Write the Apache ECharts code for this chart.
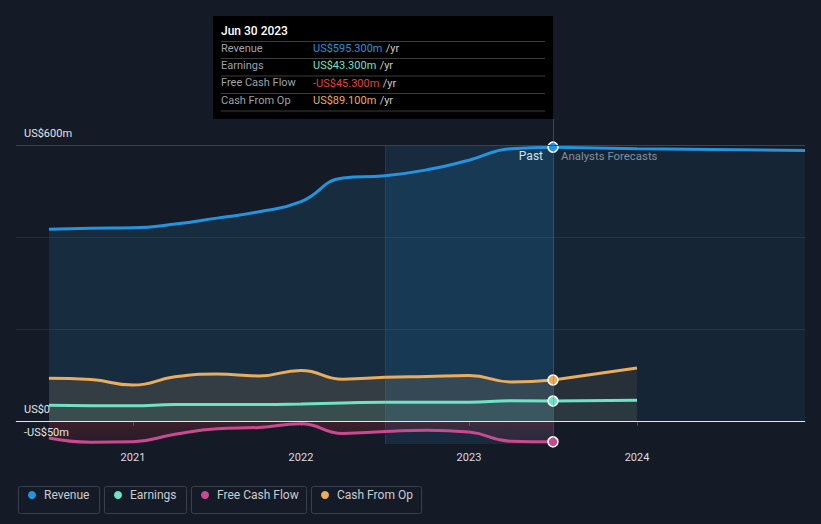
<!DOCTYPE html>
<html>
<head>
<meta charset="utf-8">
<style>
  html, body { margin: 0; padding: 0; background: #151b26; }
  #chart { width: 821px; height: 524px; }
</style>
<script src="https://cdn.jsdelivr.net/npm/echarts@6/dist/echarts.min.js"></script>
</head>
<body>
<div id="chart"></div>
<script>
// ---- data (decimal years, US$ millions) ----
const pastPeriods = [2020.5, 2020.75, 2021, 2021.25, 2021.5, 2021.75, 2022, 2022.25, 2022.5, 2022.75, 2023, 2023.25, 2023.5];
const revenuePast  = [417, 419, 420, 428, 441, 455, 477, 528, 533, 546, 567, 592, 595.3];
const earningsPast = [34, 33, 33, 36, 36, 36, 37, 39, 41, 41, 41, 44, 43.3];
const fcfPast      = [-37, -46, -45, -29, -17, -14, -6, -27, -23, -20, -24, -44, -45.3];
const cfoPast      = [93, 90, 78, 96, 102, 98, 110, 91, 95, 97, 99, 85, 89.1];

const revenueForecastPeriods = [2023.5, 2024, 2025];
const revenueForecast = [595.3, 592, 588];
const shortForecastPeriods = [2023.5, 2024];
const earningsForecast = [43.3, 45];
const cfoForecast = [89.1, 115];

const xTickYears = [2021, 2022, 2023, 2024];
const yLabelValues = [-50, 0, 600];
const gridValues = [200, 400];
const topGridValue = 600;
const bottomValue = -50;
const lastYearStart = 2022.5;
const nowPeriod = 2023.5;

const tooltipDate = 'Jun 30 2023';
const tooltipRows = [
  { name: 'Revenue', value: 'US$595.300m', color: '#2394df' },
  { name: 'Earnings', value: 'US$43.300m', color: '#6fe3c6' },
  { name: 'Free Cash Flow', value: '-US$45.300m', color: '#ec3b3b' },
  { name: 'Cash From Op', value: 'US$89.100m', color: '#e9ad5b' }
];

const C = { rev: '#2394df', earn: '#6fe3c6', fcf: '#c94b8f', cfo: '#e9ad5b' };

function pairs(xs, ys) { return ys.map((v, i) => [xs[i], v]); }
function withDot(xs, ys, color) {
  const d = pairs(xs, ys);
  const last = d.length - 1;
  d[last] = { value: d[last], symbol: 'circle', symbolSize: 10,
    itemStyle: { color: color, borderColor: '#ffffff', borderWidth: 1.5 } };
  return d;
}

const chart = echarts.init(document.getElementById('chart'), null, { renderer: 'svg' });
const font = 'Roboto, "Noto Sans", sans-serif';

function lineSeries(name, data, color, area, z, width) {
  return {
    name: name, type: 'line', data: data, z: z,
    smooth: 0.5,
    symbol: 'none', showSymbol: true, silent: true,
    itemStyle: { color: color },
    lineStyle: { color: color, width: width || 3 },
    areaStyle: area,
    emphasis: { disabled: true }
  };
}

const solid = (color) => ({ color: color, width: 1, type: 'solid' });

const series = [
  {
    name: 'guides', type: 'line', data: [], z: 1, silent: true,
    markArea: {
      silent: true,
      itemStyle: { color: 'rgba(35,148,223,0.13)' },
      data: [[{ xAxis: lastYearStart, yAxis: bottomValue }, { xAxis: nowPeriod, yAxis: topGridValue }]]
    },
    markLine: {
      silent: true, symbol: 'none', label: { show: false },
      data: gridValues.map(v => ({ yAxis: v, lineStyle: solid('rgba(255,255,255,0.07)') }))
        .concat([{ yAxis: topGridValue, lineStyle: solid('#3b414b') }])
        .concat([{ xAxis: nowPeriod, lineStyle: solid('rgba(35,148,223,0.45)') }])
        .concat([[{ coord: [lastYearStart, bottomValue], lineStyle: solid('rgba(35,148,223,0.18)') },
                  { coord: [lastYearStart, topGridValue] }]])
    }
  },
  lineSeries('Revenue', withDot(pastPeriods, revenuePast, C.rev), C.rev, { color: 'rgba(35,148,223,0.2)' }, 2),
  lineSeries('Revenue', pairs(revenueForecastPeriods, revenueForecast), C.rev, { color: 'rgba(35,148,223,0.13)' }, 2),
  lineSeries('Cash From Op', withDot(pastPeriods, cfoPast, C.cfo), C.cfo, { color: 'rgba(233,173,91,0.2)' }, 3),
  lineSeries('Cash From Op', pairs(shortForecastPeriods, cfoForecast), C.cfo, { color: 'rgba(233,173,91,0.12)' }, 3),
  lineSeries('Earnings', withDot(pastPeriods, earningsPast, C.earn), C.earn, { color: 'rgba(111,227,198,0.14)' }, 4),
  lineSeries('Earnings', pairs(shortForecastPeriods, earningsForecast), C.earn, { color: 'rgba(111,227,198,0.08)' }, 4),
  lineSeries('Free Cash Flow', withDot(pastPeriods, fcfPast, C.fcf), C.fcf, {
    color: new echarts.graphic.LinearGradient(0, 0, 0, 1, [
      { offset: 0, color: 'rgba(210,45,65,0.32)' },
      { offset: 1, color: 'rgba(210,45,65,0.12)' }
    ])
  }, 4),
  {
    name: 'zero', type: 'line', data: [], z: 6, silent: true,
    markLine: {
      silent: true, symbol: 'none', label: { show: false },
      data: [{ yAxis: 0, lineStyle: { color: '#e6e6e6', width: 1.2, type: 'solid' } }]
    }
  }
];

function legendItem(name, left) {
  return {
    data: [name], left: left, top: 489, padding: 0, icon: 'circle', itemWidth: 8, itemHeight: 8,
    selectedMode: false,
    textStyle: { color: '#c9ccd1', fontSize: 12, fontFamily: font, padding: [0, 0, 0, 3] }
  };
}

const graphic = [
  { type: 'rect', left: 213, top: 16, shape: { width: 340, height: 103 }, style: { fill: '#000000' }, silent: true },
  { type: 'text', left: 221, top: 25, style: { text: tooltipDate, fill: '#ffffff', font: '500 12px ' + font } }
];
[41.5, 58.5, 76, 93.5, 111].forEach(y => {
  graphic.push({ type: 'line', shape: { x1: 221, y1: y, x2: 545, y2: y }, style: { stroke: '#3c3c3c', lineWidth: 1 }, silent: true });
});
tooltipRows.forEach((r, i) => {
  const cy = [49.5, 66.5, 84, 101.5][i];
  graphic.push({ type: 'text', left: 221, top: cy - 7, style: { text: r.name, fill: '#9da2a9', font: '11px ' + font } });
  graphic.push({ type: 'text', left: 313, top: cy - 7, style: {
    text: '{v|' + r.value + '} {u|/yr}',
    rich: { v: { fill: r.color, font: '11px ' + font }, u: { fill: '#c8c8c8', font: '11px ' + font } }
  } });
});
graphic.push({ type: 'text', right: 821 - 543, top: 150, style: { text: 'Past', fill: '#ffffff', font: '12px ' + font } });
graphic.push({ type: 'text', left: 561, top: 150, style: { text: 'Analysts Forecasts', fill: '#8b9099', font: '11.4px ' + font } });
[[16, 81], [102, 82], [189, 115], [309, 110]].forEach(b => {
  graphic.push({ type: 'rect', left: b[0], top: 484, shape: { width: b[1], height: 27, r: 2 },
    style: { fill: 'none', stroke: '#3a404b', lineWidth: 1 }, silent: true, z: -1 });
});

chart.setOption({
  backgroundColor: '#151b26',
  animation: false,
  grid: { left: 16, right: 16, top: 119, bottom: 80, containLabel: false },
  xAxis: {
    type: 'value', min: 2020.304, max: 2025,
    axisLine: { show: true, lineStyle: { color: '#40464f', width: 1 } },
    axisTick: { show: true, customValues: xTickYears, length: 5, lineStyle: { color: '#4a505a' } },
    axisLabel: { customValues: xTickYears, formatter: v => String(v), color: '#d9dce0', fontSize: 11, fontFamily: font, margin: 8 },
    splitLine: { show: false }
  },
  yAxis: {
    type: 'value', min: bottomValue, max: 656.5, z: 10,
    axisLine: { show: false }, axisTick: { show: false }, splitLine: { show: false },
    axisLabel: {
      customValues: yLabelValues, inside: true, margin: 8, align: 'left', verticalAlign: 'bottom',
      padding: [0, 0, 6, 0], color: '#e2e4e7', fontSize: 11, fontFamily: font,
      formatter: v => v === 0 ? 'US$0' : (v < 0 ? '-US$' + (-v) + 'm' : 'US$' + v + 'm')
    }
  },
  legend: [
    legendItem('Revenue', 28),
    legendItem('Earnings', 114),
    legendItem('Free Cash Flow', 201),
    legendItem('Cash From Op', 321)
  ],
  tooltip: { show: false },
  series: series,
  graphic: graphic
});
</script>
</body>
</html>
